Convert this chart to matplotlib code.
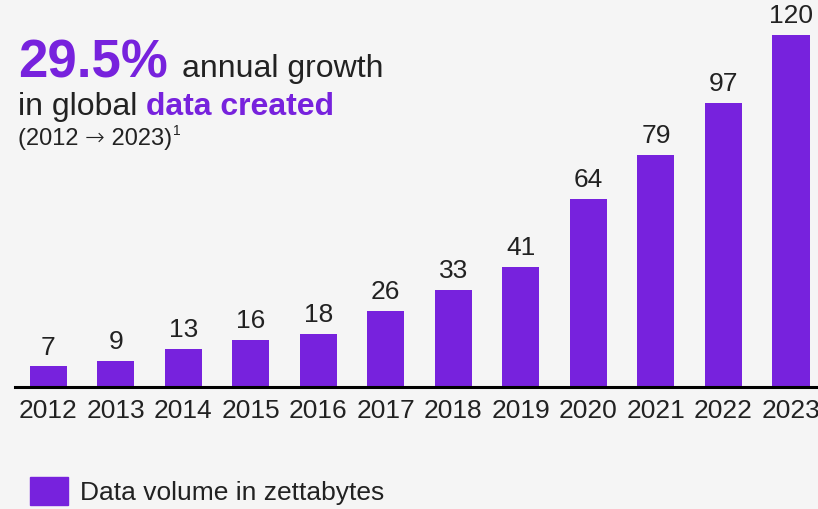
import matplotlib
matplotlib.use("Agg")
import matplotlib.pyplot as plt
from matplotlib.patches import Rectangle

years = ["2012", "2013", "2014", "2015", "2016", "2017", "2018", "2019", "2020", "2021", "2022", "2023"]
values = [7, 9, 13, 16, 18, 26, 33, 41, 64, 79, 97, 120]
legend_label = "Data volume in zettabytes"

PURPLE = "#7722DD"
TEXT = "#222222"
BG = "#F5F5F5"
FAM = ["Liberation Sans", "DejaVu Sans"]

plt.rcParams['font.family'] = FAM

W, H = 818, 509
fig = plt.figure(figsize=(W / 100, H / 100), dpi=100, facecolor=BG)
ax = fig.add_axes([15 / W, 122 / H, 1 - 15 / W, 1 - 122 / H])
ax.set_facecolor(BG)

x = list(range(len(years)))
ax.bar(x, values, width=0.55, color=PURPLE)
ax.set_xlim(-0.49, 11.4)
ax.set_ylim(0, 132)
for s in ["top", "right", "left"]:
    ax.spines[s].set_visible(False)
ax.spines["bottom"].set_linewidth(2.2)
ax.spines["bottom"].set_color("#000000")
ax.set_yticks([])
ax.set_xticks(x)
ax.set_xticklabels(years, fontsize=19, color=TEXT)
ax.tick_params(axis="x", length=0, pad=9)
for xi, v in zip(x, values):
    ax.annotate(str(v), (xi, v), xytext=(0, 5), textcoords="offset points",
                ha="center", va="bottom", fontsize=19, color=TEXT)

def px(xp, yp):
    return xp / W, 1 - yp / H

fig.canvas.draw()
r = fig.canvas.get_renderer()

def put(xp, yp, s, **kw):
    t = fig.text(*px(xp, yp), s, va="baseline", ha="left", **kw)
    bb = t.get_window_extent(renderer=r)
    return bb.x1

e = put(18, 77, "29.5%", fontsize=38, fontweight="bold", color=PURPLE)
put(e + 14, 77, "annual growth", fontsize=23, color=TEXT)
e = put(18, 115, "in global ", fontsize=23, color=TEXT)
put(e, 115, "data created", fontsize=23, fontweight="bold", color=PURPLE)
e = put(18, 145, "(2012 ", fontsize=17, color=TEXT)
e = put(e, 145, "\u2192", fontsize=17, color=TEXT, family="DejaVu Sans", fontweight="light")
e = put(e, 145, " 2023)", fontsize=17, color=TEXT)
put(e + 1, 135, "1", fontsize=10, color=TEXT)

# Legend
fig.patches.append(Rectangle((30 / W, 1 - 505 / H), 38 / W, 28 / H,
                             transform=fig.transFigure, color=PURPLE))
fig.text(*px(80, 500), legend_label, fontsize=19, color=TEXT, va="baseline", ha="left")

fig.savefig("out.png", dpi=100, facecolor=BG)
